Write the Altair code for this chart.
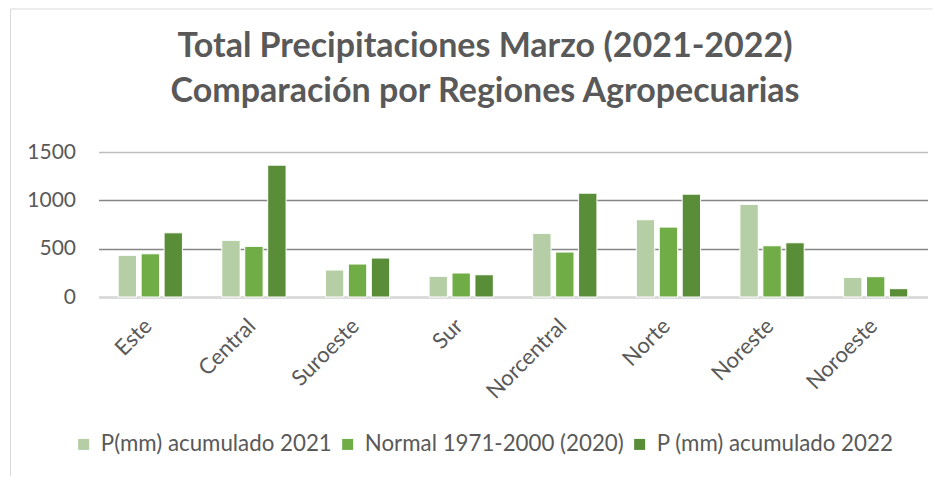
import altair as alt
import pandas as pd

regions = ["Este", "Central", "Suroeste", "Sur", "Norcentral", "Norte", "Noreste", "Noroeste"]
series = ["P(mm) acumulado 2021", "Normal 1971-2000 (2020)", "P (mm) acumulado 2022"]
p2021 = [431, 586, 279, 214, 658, 799, 958, 203]
normal = [447, 524, 341, 248, 465, 723, 530, 210]
p2022 = [664, 1364, 403, 230, 1074, 1064, 561, 86]
colors = ["#B5CEA6", "#70AD47", "#5A8D38"]
y_ticks = [0, 500, 1000, 1500]

rows = []
for name, vals in zip(series, [p2021, normal, p2022]):
    for r, v in zip(regions, vals):
        rows.append({"Región": r, "Serie": name, "Valor": v})
df = pd.DataFrame(rows)

FONT = "Lato"
GREY = "#595959"
BORDER = "#D9D9D9"

bars = alt.Chart(df).mark_bar(stroke="white", strokeWidth=1).encode(
    x=alt.X("Región:N", sort=regions, title=None,
            scale=alt.Scale(paddingInner=0.38, paddingOuter=0.19),
            axis=alt.Axis(labelAngle=-45, labelAlign="right", labelBaseline="top",
                          labelFontSize=22, labelFont=FONT, labelColor=GREY, labelOffset=-9,
                          ticks=False, domainColor=BORDER, domainWidth=2, labelPadding=18)),
    xOffset=alt.XOffset("Serie:N", sort=series, scale=alt.Scale(paddingInner=0.2, paddingOuter=0)),
    y=alt.Y("Valor:Q", title=None,
            scale=alt.Scale(domain=[0, 1500], nice=False),
            axis=alt.Axis(values=y_ticks, format="d", labelFontSize=21, labelFont=FONT,
                          labelColor=GREY, ticks=False, domain=False, labelPadding=23,
                          gridColor={"condition": {"test": "datum.value === 1500", "value": "#BFBFBF"},
                                     "value": "#868686"},
                          gridWidth=1.6)),
    color=alt.Color("Serie:N", sort=series,
                    scale=alt.Scale(domain=series, range=colors),
                    legend=alt.Legend(title=None, orient="none", direction="horizontal",
                                      legendX=-26, legendY=281, symbolType="square",
                                      symbolSize=121, symbolStrokeWidth=0, labelFontSize=22.3,
                                      labelFont=FONT, labelColor=GREY, labelOffset=6,
                                      labelLimit=0, columnPadding=4)),
)

# chart frame (light grey outline on left and top, as in the original)
frame_base = alt.Chart(alt.Data(values=[{}]))
frame_left = frame_base.mark_rule(color=BORDER, strokeWidth=1).encode(
    x=alt.value(-88), y=alt.value(-143), y2=alt.value(324))
frame_top = frame_base.mark_rule(color=BORDER, strokeWidth=1).encode(
    x=alt.value(-88), x2=alt.value(834), y=alt.value(-143))

chart = alt.layer(bars, frame_left, frame_top).properties(
    width=829, height=145,
    padding={"left": 1.5, "top": 0, "right": 0, "bottom": 0},
    title=alt.TitleParams(["Total Precipitaciones Marzo (2021-2022)",
                           "Comparación por Regiones Agropecuarias"],
                          font=FONT, fontSize=34, fontWeight="bold", color=GREY,
                          lineHeight=45, anchor="middle", dx=-28, offset=-100),
).configure_view(stroke=None)

chart.save("out.html", embed_options={"renderer": "svg", "actions": False})
